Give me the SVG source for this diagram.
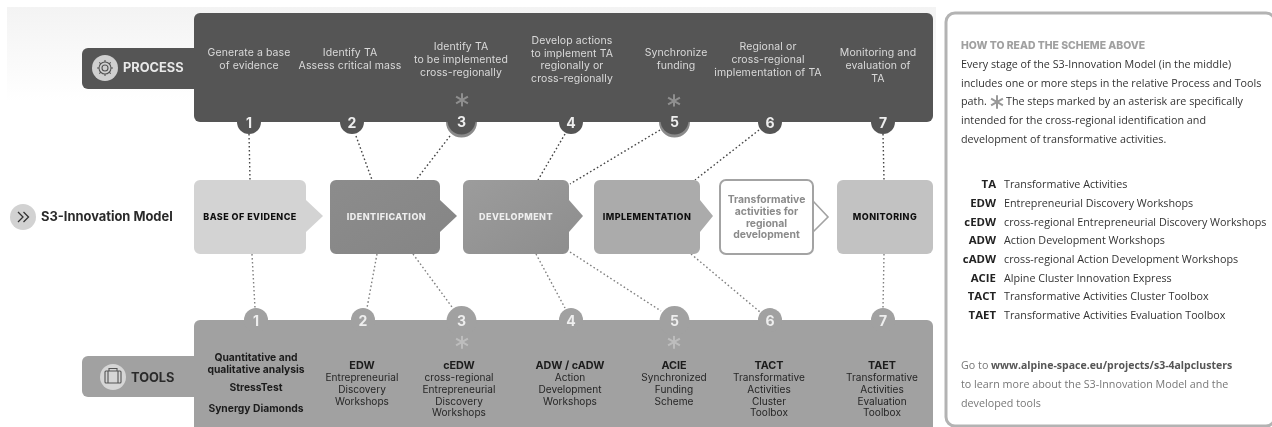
<svg xmlns="http://www.w3.org/2000/svg" width="1272" height="427" viewBox="0 0 1272 427">
<defs>
<linearGradient id="bg" x1="0" y1="0" x2="0" y2="1"><stop offset="0" stop-color="#f3f3f3"/><stop offset="1" stop-color="#ffffff"/></linearGradient>
<linearGradient id="idg" x1="0" y1="0" x2="1" y2="1"><stop offset="0" stop-color="#8c8c8c"/><stop offset="1" stop-color="#858585"/></linearGradient>
<linearGradient id="devg" x1="0" y1="0" x2="1" y2="1"><stop offset="0" stop-color="#9c9c9c"/><stop offset="1" stop-color="#8d8d8d"/></linearGradient>
<path id="star" d="M0 -6.800V6.800M-5.900 -3.400L5.900 3.400M-5.900 3.400L5.900 -3.400" fill="none" stroke-width="2"/>
<filter id="soft" x="0" y="0" width="100%" height="100%"><feGaussianBlur stdDeviation="0.4"/></filter>
</defs>
<style>
text{font-family:"Inter","Liberation Sans",sans-serif}
.c{text-anchor:middle}
.pt{font-size:10.5px;fill:#dadada;letter-spacing:.1px}
.tt{font-size:10.1px;fill:#262626}
.tb{font-size:10.3px;fill:#1c1c1c;font-weight:700}
.th{font-size:10.8px}
.num{font-size:14px;font-weight:700;text-anchor:middle}
.lab{font-size:12.8px;font-weight:700}
.st{font-size:9px;font-weight:800;text-anchor:middle;letter-spacing:.45px}
.cp{fill:none;stroke:#444;stroke-width:1.4;stroke-dasharray:1.6 2.4}
.ct{fill:none;stroke:#808080;stroke-width:1.4;stroke-dasharray:1.6 2.4}
.p{font-family:"Open Sans","Liberation Sans",sans-serif;font-size:10.75px;fill:#333}
.pb{font-family:"Open Sans","Liberation Sans",sans-serif;font-size:11.4px;fill:#222;font-weight:700;text-anchor:end}
.pg{font-family:"Open Sans","Liberation Sans",sans-serif;font-size:10.75px;fill:#777}
.ic{fill:none;stroke:#555;stroke-width:1.1}
</style>
<g filter="url(#soft)">
<rect x="7" y="7" width="929" height="95" fill="url(#bg)"/>
<g id="connectors">
<path class="cp" d="M249 134L250 180M356 136L372 180M450 136L416 180M565 134L538 180M660 130L570 184M759 130L695 180M883 134L884 180"/>
<path class="ct" d="M252 254L255 308M377 254L367 308M413 254L452 307M536 254L565 308M570 252L661 311M691 254L760 312M884 254L883 308"/>
</g>
<g id="process">
<rect x="82" y="48" width="130" height="41" rx="6" fill="#555"/>
<rect x="194" y="13" width="739" height="109" rx="6" fill="#555"/>
<circle cx="105" cy="68" r="13" fill="#cfcfcf"/>
<g class="ic"><circle cx="105" cy="68" r="3"/><circle cx="105" cy="68" r="6"/><path d="M105 60v2M105 74v2M97 68h2M111 68h2M99.300 62.300l1.500 1.500M109.200 72.200l1.500 1.500M99.300 73.700l1.500-1.500M109.200 63.800l1.500-1.500"/></g>
<text class="lab" x="123" y="72" fill="#e8e8e8">PROCESS</text>
<g class="pt"><text class="c" x="249" y="56">Generate a base</text><text class="c" x="249" y="69">of evidence</text>
<text class="c" x="350" y="56">Identify TA</text><text class="c" x="350" y="69">Assess critical mass</text>
<text class="c" x="461" y="50">Identify TA</text><text class="c" x="461" y="63">to be implemented</text><text class="c" x="461" y="76">cross-regionally</text>
<text class="c" x="572" y="44">Develop actions</text><text class="c" x="572" y="56.500">to implement TA</text><text class="c" x="572" y="69">regionally or</text><text class="c" x="572" y="82">cross-regionally</text>
<text class="c" x="676" y="56">Synchronize</text><text class="c" x="676" y="69">funding</text>
<text class="c" x="768" y="50">Regional or</text><text class="c" x="768" y="63">cross-regional</text><text class="c" x="768" y="76">implementation of TA</text>
<text class="c" x="878" y="56">Monitoring and</text><text class="c" x="878" y="69">evaluation of</text><text class="c" x="878" y="82">TA</text></g>
<use href="#star" x="462" y="100" stroke="#8f8f8f"/><use href="#star" x="674" y="101" stroke="#8f8f8f"/>
</g>
<g id="p1"><circle cx="249" cy="122" r="12" fill="#555"/><text class="num" x="249" y="127.500" fill="#eee">1</text></g>
<g id="p2"><circle cx="352" cy="122" r="12" fill="#555"/><text class="num" x="352" y="127.500" fill="#eee">2</text></g>
<g id="p3"><path d="M446 122a15.500 15.500 0 0 0 31 0z" fill="#8a8a8a"/><circle cx="461.500" cy="120.500" r="14" fill="#555"/><text class="num" x="461.500" y="127" fill="#eee">3</text></g>
<g id="p4"><circle cx="571" cy="122" r="12" fill="#555"/><text class="num" x="571" y="127.500" fill="#eee">4</text></g>
<g id="p5"><path d="M659 122a15.500 15.500 0 0 0 31 0z" fill="#8a8a8a"/><circle cx="674.500" cy="120.500" r="14" fill="#555"/><text class="num" x="674.500" y="127" fill="#eee">5</text></g>
<g id="p6"><circle cx="770" cy="122" r="12" fill="#555"/><text class="num" x="770" y="127.500" fill="#eee">6</text></g>
<g id="p7"><circle cx="883" cy="122" r="12" fill="#555"/><text class="num" x="883" y="127.500" fill="#eee">7</text></g>
<g id="model"><circle cx="23" cy="217" r="13" fill="#d2d2d2"/><path d="M18 212l5 5-5 5M23.500 212l5 5-5 5" fill="none" stroke="#333" stroke-width="1.300"/><text x="41" y="221" font-size="12.900" font-weight="700" fill="#2a2a2a">S3-Innovation Model</text></g>
<g id="base"><path d="M200 180H300a6 6 0 0 1 6 6V200L323 216L306 232V248a6 6 0 0 1-6 6H200a6 6 0 0 1-6-6V186a6 6 0 0 1 6-6Z" fill="#d3d3d3"/><text class="st" x="250" y="219.500" fill="#111">BASE OF EVIDENCE</text></g>
<g id="identification"><path d="M336 180H434a6 6 0 0 1 6 6V200L457 216L440 232V248a6 6 0 0 1-6 6H336a6 6 0 0 1-6-6V186a6 6 0 0 1 6-6Z" fill="url(#idg)"/><text class="st" x="386.500" y="219.500" fill="#eee">IDENTIFICATION</text></g>
<g id="development"><path d="M469 180H563a6 6 0 0 1 6 6V200L583 216L569 232V248a6 6 0 0 1-6 6H469a6 6 0 0 1-6-6V186a6 6 0 0 1 6-6Z" fill="url(#devg)"/><text class="st" x="516" y="219.500" fill="#eee">DEVELOPMENT</text></g>
<g id="implementation"><path d="M600 180H694a6 6 0 0 1 6 6V200L713 216L700 232V248a6 6 0 0 1-6 6H600a6 6 0 0 1-6-6V186a6 6 0 0 1 6-6Z" fill="#ababab"/><text class="st" x="647" y="219.500" fill="#111">IMPLEMENTATION</text></g>
<g id="outcome"><rect x="720" y="180" width="93" height="74" rx="6" fill="#fff" stroke="#a3a3a3" stroke-width="2"/><path d="M813 201L828 217L813 232" fill="none" stroke="#a3a3a3" stroke-width="1.600"/>
<g font-size="10.400" font-weight="700" fill="#8b8b8b" text-anchor="middle"><text x="766.500" y="203">Transformative</text><text x="766.500" y="215">activities for</text><text x="766.500" y="226.500">regional</text><text x="766.500" y="238">development</text></g></g>
<g id="monitoring"><rect x="837" y="180" width="96" height="74" rx="6" fill="#c2c2c2"/><text class="st" x="885" y="219.500" fill="#111">MONITORING</text></g>
<g id="tools">
<rect x="82" y="356" width="130" height="41" rx="6" fill="#a1a1a1"/>
<rect x="194" y="320" width="739" height="114" rx="6" fill="#a1a1a1"/>
<circle cx="113" cy="377" r="13" fill="#d6d6d6"/>
<g class="ic"><rect x="105" y="371" width="16" height="12" rx="1"/><path d="M109 371v-2.500h8v2.500M108 371v12M118 371v12"/></g>
<text class="lab" x="131" y="381.500" fill="#2a2a2a">TOOLS</text>
<g class="tb"><text class="c" x="256" y="361">Quantitative and</text><text class="c" x="256" y="373">qualitative analysis</text><text class="c" x="256" y="391">StressTest</text><text class="c" x="256" y="412">Synergy Diamonds</text></g>
<g class="tb th"><text class="c" x="362" y="369">EDW</text><text class="c" x="459" y="369">cEDW</text><text class="c" x="570" y="369">ADW / cADW</text><text class="c" x="674" y="369">ACIE</text><text class="c" x="769" y="369">TACT</text><text class="c" x="882" y="369">TAET</text></g>
<g class="tt"><text class="c" x="362" y="381">Entrepreneurial</text><text class="c" x="362" y="393">Discovery</text><text class="c" x="362" y="405">Workshops</text>
<text class="c" x="459" y="381">cross-regional</text><text class="c" x="459" y="393">Entrepreneurial</text><text class="c" x="459" y="405">Discovery</text><text class="c" x="459" y="416">Workshops</text>
<text class="c" x="570" y="381">Action</text><text class="c" x="570" y="393">Development</text><text class="c" x="570" y="405">Workshops</text>
<text class="c" x="674" y="381">Synchronized</text><text class="c" x="674" y="393">Funding</text><text class="c" x="674" y="405">Scheme</text>
<text class="c" x="769" y="381">Transformative</text><text class="c" x="769" y="393">Activities</text><text class="c" x="769" y="405">Cluster</text><text class="c" x="769" y="416">Toolbox</text>
<text class="c" x="882" y="381">Transformative</text><text class="c" x="882" y="393">Activities</text><text class="c" x="882" y="405">Evaluation</text><text class="c" x="882" y="416">Toolbox</text></g>
<use href="#star" x="462" y="342" stroke="#bdbdbd"/><use href="#star" x="674" y="342" stroke="#bdbdbd"/>
</g>
<g id="t1"><circle cx="256" cy="320" r="12" fill="#a1a1a1"/><text class="num" x="256" y="326" fill="#eee">1</text></g>
<g id="t2"><circle cx="363" cy="320" r="12" fill="#a1a1a1"/><text class="num" x="363" y="326" fill="#eee">2</text></g>
<g id="t3"><circle cx="461.500" cy="321" r="15" fill="#a1a1a1"/><text class="num" x="461.500" y="326" fill="#eee">3</text></g>
<g id="t4"><circle cx="571" cy="320" r="12" fill="#a1a1a1"/><text class="num" x="571" y="326" fill="#eee">4</text></g>
<g id="t5"><circle cx="674.500" cy="321" r="15" fill="#a1a1a1"/><text class="num" x="674.500" y="326" fill="#eee">5</text></g>
<g id="t6"><circle cx="770" cy="320" r="12" fill="#a1a1a1"/><text class="num" x="770" y="326" fill="#eee">6</text></g>
<g id="t7"><circle cx="883" cy="320" r="12" fill="#a1a1a1"/><text class="num" x="883" y="326" fill="#eee">7</text></g>
<g id="legend">
<rect x="946" y="13" width="329" height="413" rx="9" fill="#fff" stroke="#b3b3b3" stroke-width="3"/>
<text x="961" y="49" font-size="10.400" font-weight="800" fill="#a0a0a0">HOW TO READ THE SCHEME ABOVE</text>
<text class="p" x="961" y="68">Every stage of the S3-Innovation Model (in the middle)</text>
<text class="p" x="961" y="87">includes one or more steps in the relative Process and Tools</text>
<text class="p" x="961" y="105">path.</text><use href="#star" x="997" y="102" stroke="#999"/>
<text class="p" x="1006" y="105">The steps marked by an asterisk are specifically</text>
<text class="p" x="961" y="124">intended for the cross-regional identification and</text>
<text class="p" x="961" y="143">development of transformative activities.</text>
<text class="pb" x="996" y="188">TA</text><text class="p" x="1004" y="188">Transformative Activities</text>
<text class="pb" x="996" y="207">EDW</text><text class="p" x="1004" y="207">Entrepreneurial Discovery Workshops</text>
<text class="pb" x="996" y="226">cEDW</text><text class="p" x="1004" y="226">cross-regional Entrepreneurial Discovery Workshops</text>
<text class="pb" x="996" y="244">ADW</text><text class="p" x="1004" y="244">Action Development Workshops</text>
<text class="pb" x="996" y="263">cADW</text><text class="p" x="1004" y="263">cross-regional Action Development Workshops</text>
<text class="pb" x="996" y="282">ACIE</text><text class="p" x="1004" y="282">Alpine Cluster Innovation Express</text>
<text class="pb" x="996" y="300">TACT</text><text class="p" x="1004" y="300">Transformative Activities Cluster Toolbox</text>
<text class="pb" x="996" y="319">TAET</text><text class="p" x="1004" y="319">Transformative Activities Evaluation Toolbox</text>
<text class="pg" x="961" y="369">Go to <tspan x="991" font-size="10.500" font-weight="700" fill="#555">www.alpine-space.eu/projects/s3-4alpclusters</tspan></text>
<text class="pg" x="961" y="388">to learn more about the S3-Innovation Model and the</text>
<text class="pg" x="961" y="407">developed tools</text>
</g>
</g>
</svg>
